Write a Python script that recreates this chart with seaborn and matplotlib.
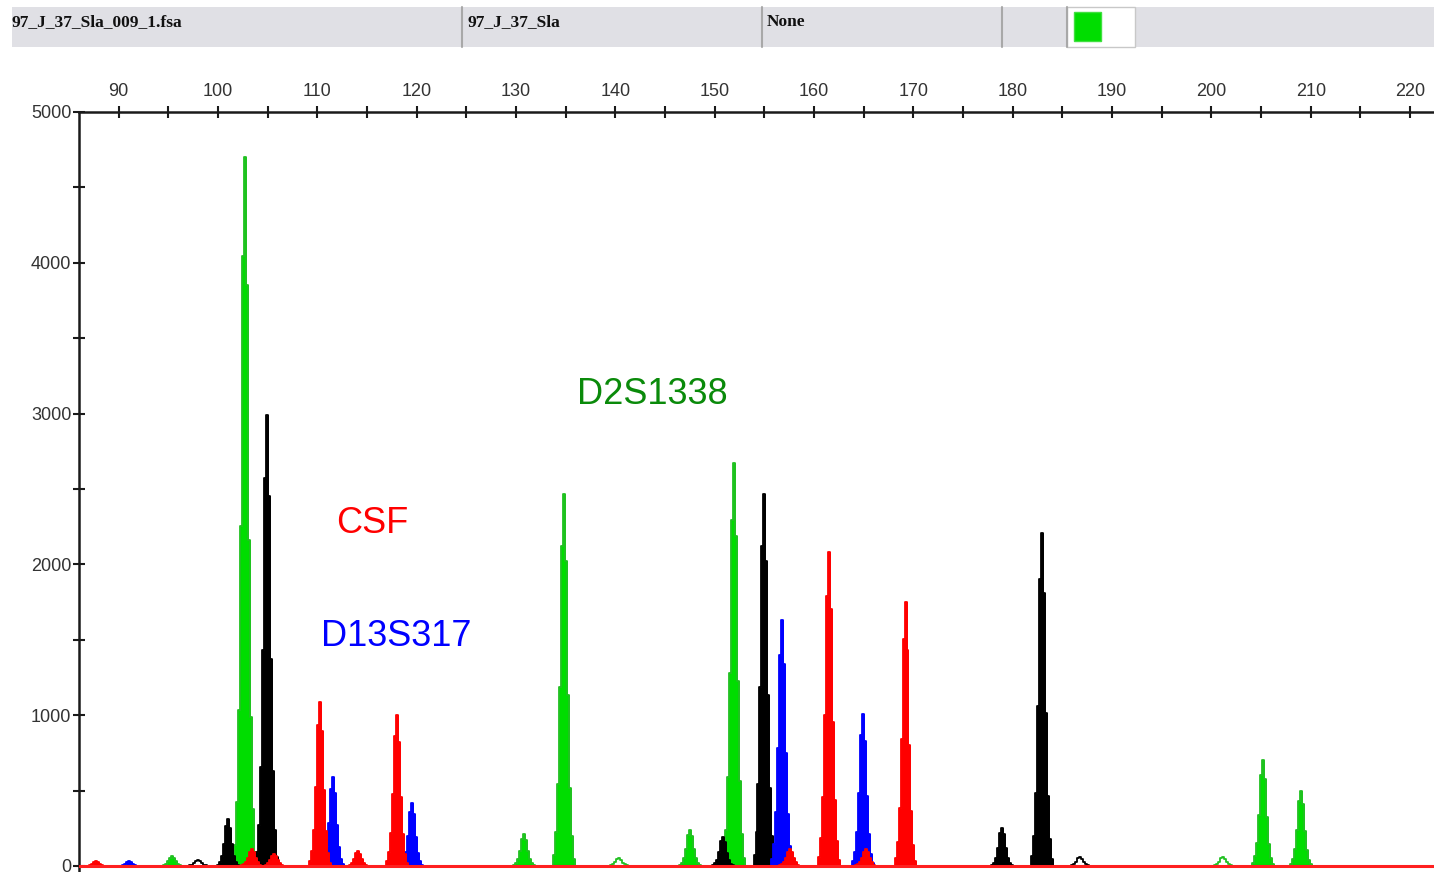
import numpy as np
import pandas as pd
import matplotlib
matplotlib.use("Agg")
import matplotlib.pyplot as plt
import seaborn as sns
from matplotlib.patches import Rectangle
from matplotlib.lines import Line2D
from matplotlib.ticker import MultipleLocator

# peaks: size (bp), height (RFU), dye, filled?
peak_size = [87.7, 91.0, 95.4, 98.0, 101.0, 102.7, 103.4, 104.9, 105.6, 110.3, 111.6,
             114.1, 118.0, 119.5, 130.8, 134.8, 140.4, 147.5, 150.8, 151.9, 155.0,
             156.8, 157.6, 161.5, 164.9, 165.2, 169.2, 178.9, 182.9, 186.8, 201.2,
             205.2, 209.0]
peak_height = [30, 30, 65, 40, 310, 4700, 110, 2990, 80, 1090, 590,
               100, 1000, 420, 210, 2470, 50, 240, 190, 2670, 2470,
               1630, 110, 2080, 1010, 110, 1750, 255, 2210, 60, 60,
               700, 500]
peak_dye = ["red", "blue", "green", "black", "black", "green", "red", "black", "red", "red", "blue",
            "red", "red", "blue", "green", "green", "green", "green", "black", "green", "black",
            "blue", "red", "red", "blue", "red", "red", "black", "black", "black", "green",
            "green", "green"]
peak_filled = [True, True, True, False, True, True, True, True, True, True, True,
               True, True, True, True, True, False, True, True, True, True,
               True, True, True, True, True, True, True, True, False, False,
               True, True]

# relative peak profile (one sample every 0.2 bp), read from the tall peaks
profile_offset = [-1.2, -1.0, -0.8, -0.6, -0.4, -0.2, 0.0, 0.2, 0.4, 0.6, 0.8, 1.0, 1.2]
profile_level = [0.0, 0.03, 0.09, 0.22, 0.48, 0.86, 1.0, 0.82, 0.46, 0.21, 0.08, 0.02, 0.0]

x_ticks = [90, 100, 110, 120, 130, 140, 150, 160, 170, 180, 190, 200, 210, 220]
y_ticks = [0, 1000, 2000, 3000, 4000, 5000]

locus_names = ["D2S1338", "CSF", "D13S317"]
locus_x = [143.7, 115.5, 117.9]
locus_y = [3125, 2270, 1525]
locus_color = ["#0a8a0a", "#ff0000", "#0000ff"]

header_texts = ["97_J_37_Sla_009_1.fsa", "97_J_37_Sla", "None"]

dye_colors = {"green": "#00dd00", "black": "#000000", "blue": "#0000ff", "red": "#ff0000"}
dye_edge = {"green": "#22c022", "black": "#000000", "blue": "#0000ff", "red": "#ff0000"}
dye_order = ["green", "black", "blue", "red"]

rows = []
for i in range(len(peak_size)):
    for off, lev in zip(profile_offset, profile_level):
        rows.append({"peak": i, "size": peak_size[i] + off,
                     "rfu": peak_height[i] * lev, "dye": peak_dye[i],
                     "filled": peak_filled[i]})
df = pd.DataFrame(rows)

sns.set_style("white")
fig = plt.figure(figsize=(14.34, 8.72), dpi=100)
ax = fig.add_axes([79 / 1434, 0.0, 1 - 79 / 1434, 1 - 112 / 872])

z = 2
for dye in dye_order:
    sub = df[df.dye == dye]
    for pid, g in sub.groupby("peak"):
        if g.filled.iloc[0]:
            ax.fill_between(g["size"], g["rfu"], step="mid",
                            facecolor=dye_colors[dye], edgecolor=dye_colors[dye],
                            lw=0.6, zorder=z)
    sns.lineplot(data=sub, x="size", y="rfu", units="peak", estimator=None,
                 sort=False, drawstyle="steps-mid", color=dye_edge[dye],
                 lw=1.3, ax=ax, zorder=z + 0.5, legend=False)
    z += 1

ax.axhline(0, color="#ff2020", lw=2.2, zorder=10)

ax.set_xlim(86.0, 222.4)
ax.set_ylim(-40, 5000)
ax.set_xlabel("")
ax.set_ylabel("")

for s in ["right", "bottom"]:
    ax.spines[s].set_visible(False)
for s in ["left", "top"]:
    ax.spines[s].set_color("#1a1a1a")
    ax.spines[s].set_linewidth(1.8)

ax.xaxis.tick_top()
ax.set_xticks(x_ticks)
ax.xaxis.set_minor_locator(MultipleLocator(5))
ax.set_yticks(y_ticks)
ax.yaxis.set_minor_locator(MultipleLocator(500))
ax.tick_params(axis="x", which="both", direction="inout", length=9, width=1.5,
               colors="#1a1a1a", labelsize=13, pad=4, top=True, bottom=False)
ax.tick_params(axis="y", which="both", direction="inout", length=9, width=1.5,
               colors="#1a1a1a", labelsize=13, pad=1, left=True)
for lbl in ax.get_xticklabels() + ax.get_yticklabels():
    lbl.set_color("#333333")
    lbl.set_family("Liberation Sans")

for name, lx, ly, lc in zip(locus_names, locus_x, locus_y, locus_color):
    ax.text(lx, ly, name, color=lc, fontsize=26, family="Liberation Sans",
            ha="center", va="center", zorder=20)

# header bar of the analysis software
def fx(px):
    return px / 1434

def fy(py):
    return 1 - py / 872

fig.patches.append(Rectangle((fx(12), fy(47)), fx(1434) - fx(12), fy(7) - fy(47),
                             transform=fig.transFigure, facecolor="#e0e0e5",
                             edgecolor="none", zorder=0))
fig.patches.append(Rectangle((fx(1067), fy(47)), fx(1135) - fx(1067), fy(7) - fy(47),
                             transform=fig.transFigure, facecolor="white",
                             edgecolor="#c8c8c8", lw=1, zorder=1))
fig.patches.append(Rectangle((fx(1074), fy(41)), fx(1101) - fx(1074), fy(12) - fy(41),
                             transform=fig.transFigure, facecolor="#00dd00",
                             edgecolor="#40e040", lw=1, zorder=2))
for px in [462, 762, 1002, 1067]:
    fig.lines.append(Line2D([fx(px), fx(px)], [fy(47), fy(7)], transform=fig.transFigure,
                            color="#a8a8a8", lw=1.5))
for txt, px in zip(header_texts, [12, 467, 767]):
    fig.text(fx(px), fy(22), txt, fontsize=12.5, fontweight="bold",
             family="Liberation Serif", ha="left", va="center", color="#111111")

fig.savefig("out.png", dpi=100)
